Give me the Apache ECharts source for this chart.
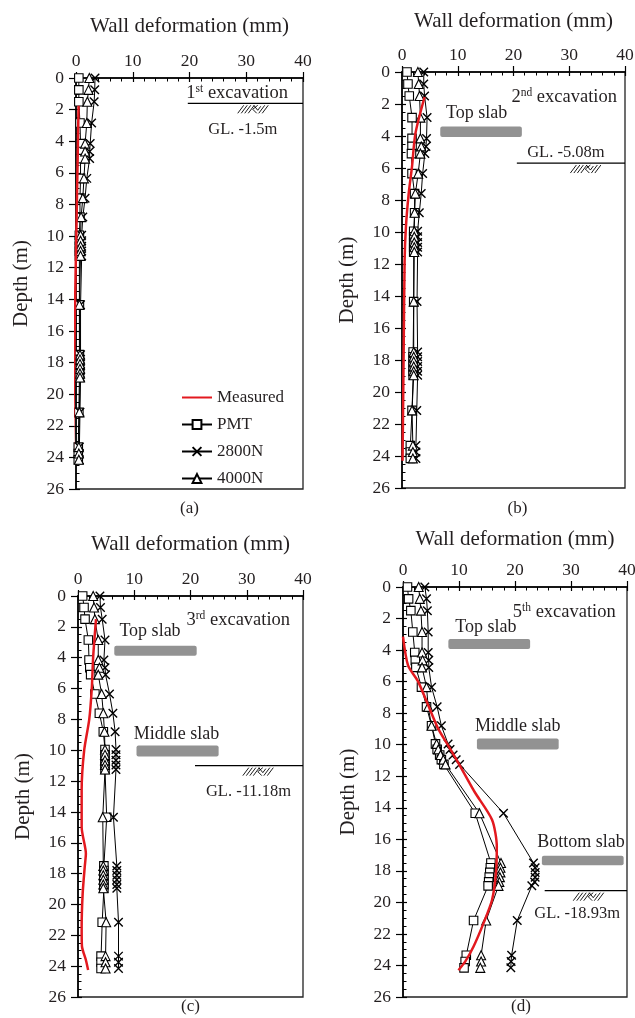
<!DOCTYPE html>
<html><head><meta charset="utf-8">
<script src="https://cdn.jsdelivr.net/npm/echarts@6/dist/echarts.min.js"></script>
<style>html,body{margin:0;padding:0;background:#fff}#c{width:635px;height:1018px}</style>
</head><body><div id="c"></div>
<script>
// ---------------- DATA ----------------
const depthModel = [0,0.75,1.5,2.85,4.15,4.65,5.1,6.35,7.6,8.8,9.95,10.3,10.65,10.95,11.25,14.35,17.5,17.8,18.1,18.4,18.7,18.95,21.15,23.35,23.75,24.15];

// (a) 1st excavation
const pmtA   = [0.5,0.5,0.5,0.7,0.8,0.8,0.8,0.8,0.7,0.7,0.6,0.6,0.6,0.6,0.6,0.6,0.6,0.6,0.6,0.6,0.6,0.6,0.5,0.4,0.4,0.4];
const n2800A = [3.35,3.3,3.2,2.75,2.5,2.4,2.4,1.9,1.6,1.2,1.0,1.0,1.0,1.0,1.0,0.8,0.8,0.8,0.8,0.8,0.8,0.8,0.7,0.6,0.6,0.6];
const n4000A = [2.35,2.2,2.0,1.9,1.6,1.6,1.6,1.4,1.2,0.9,0.8,0.8,0.8,0.8,0.8,0.6,0.7,0.7,0.7,0.7,0.7,0.7,0.6,0.5,0.5,0.5];
const measDepthA = [1.75,6,10,15,20,24.3];
const measA      = [0.45,0.25,0.05,-0.2,-0.4,-0.6];

// (b) 2nd excavation
const pmtB   = [0.9,1.07,1.3,1.8,1.8,1.8,1.7,1.8,2.26,2.26,2.1,2.1,2.1,2.1,2.1,2.1,2.0,2.0,2.0,2.0,2.0,2.0,1.8,1.5,1.5,1.5];
const n2800B = [3.9,3.9,4.05,4.5,4.4,4.3,4.1,3.7,3.45,3.1,2.8,2.8,2.8,2.8,2.8,2.7,2.8,2.8,2.8,2.8,2.8,2.8,2.65,2.5,2.5,2.5];
const n4000B = [2.85,3.0,3.15,3.3,3.3,3.45,3.3,2.9,2.4,2.26,2.2,2.2,2.2,2.2,2.2,2.1,2.1,2.1,2.1,2.1,2.1,2.1,1.8,1.95,1.95,1.95];
const measDepthB = [1.56,3.85,5.9,7.6,9.7,11.8,17.4,24.3];
const measB      = [4.05,2.4,1.8,1.2,0.7,0.47,0.3,0.1];

// (c) 3rd excavation
const pmtC   = [0.83,1.07,1.25,1.84,1.96,2.1,2.25,3.0,3.8,4.5,4.8,4.8,4.8,4.8,4.8,5.1,4.6,4.6,4.6,4.6,4.6,4.6,4.3,4.1,4.1,4.1];
const n2800C = [3.9,4.0,4.3,4.8,4.6,4.8,4.9,5.6,6.2,6.6,6.75,6.75,6.75,6.75,6.75,6.3,6.9,6.9,6.9,6.9,6.9,6.9,7.2,7.2,7.2,7.2];
const n4000C = [2.7,2.85,3.0,3.6,3.6,3.8,3.6,4.2,4.5,4.7,4.8,4.8,4.8,4.8,4.8,4.4,4.5,4.5,4.5,4.5,4.5,4.5,5.0,4.9,4.9,4.9];
const measDepthC = [1.5,3.93,6.0,8.0,10.0,12.6,15.0,16.7,17.55,19.3,21.45,22.7,23.6,24.25];
const measC      = [3.2,2.7,2.45,2.0,1.1,0.65,0.65,1.4,1.2,0.83,0.65,0.7,1.4,1.8];

// (d) 5th excavation
const pmtD   = [0.8,1.0,1.4,1.75,2.1,2.2,2.3,3.3,4.2,5.1,5.8,6.1,6.55,6.85,7.3,12.9,15.7,15.6,15.5,15.4,15.3,15.2,12.6,11.3,11.1,10.9];
const n2800D = [3.9,4.2,4.35,4.5,4.5,4.6,4.6,5.1,6.1,6.85,8.05,8.4,8.95,9.5,10.1,17.95,23.3,23.6,23.6,23.6,23.5,23.0,20.4,19.4,19.3,19.25];
const n4000D = [2.8,3.0,3.2,3.4,3.4,3.5,3.4,4.2,4.5,5.1,6.0,6.3,6.7,7.2,7.6,13.65,17.5,17.4,17.4,17.3,17.2,17.05,14.85,13.95,13.95,13.8];
const measDepthD = [3.15,4.97,6.0,7.5,9.0,10.04,11.1,13.0,14.76,16.45,18.15,19.85,21.3,22.8,23.76,24.3];
const measD      = [0,0.9,2.7,4.5,6.3,8.05,9.8,12.8,15.9,16.75,16.6,15.9,14.4,12.6,11.1,9.9];

const xTicks = [0,10,20,30,40];
const yTicks = [0,2,4,6,8,10,12,14,16,18,20,22,24,26];
const seriesNames = ['Measured','PMT','2800N','4000N'];
const captions = ['(a)','(b)','(c)','(d)'];
const excavNum = ['1','2','3','5'];
const excavSup = ['st','nd','rd','th'];

// annotations in data units: [panel, label, x0, x1, d0, d1, labelX, labelD]
const slabs = [
  [1,'Top slab',6.86,21.5,3.4,4.06,13.4,2.6],
  [2,'Top slab',6.45,21.1,3.22,3.87,12.8,2.3],
  [2,'Middle slab',10.4,25.0,9.7,10.4,17.5,8.97],
  [3,'Top slab',8.1,22.7,3.3,3.93,14.8,2.58],
  [3,'Middle slab',13.2,27.8,9.6,10.3,20.5,8.86],
  [3,'Bottom slab',24.8,39.4,17.05,17.65,31.8,16.2]
];
// ground level: [panel, x0, depth, hatchX, text, textX, textD]
const groundLevels = [
  [0,19.7,1.6,28.5,'GL. -1.5m',29.4,3.3],
  [1,20.6,5.69,30.2,'GL. -5.08m',29.4,5.06],
  [2,20.8,11.0,29.3,'GL. -11.18m',30.3,12.7],
  [3,25.3,19.26,30.4,'GL. -18.93m',31.1,20.7]
];
// excavation label position: [x, depth]
const excavPos = [[28.4,0.97],[29.1,1.56],[28.5,1.56],[28.8,1.57]];

// ---------------- LAYOUT ----------------
const FONT = "'Liberation Serif','Times New Roman',serif";
const TXT = '#231f20';
const grids = [
  {left:76, top:78, width:227, height:411},
  {left:402, top:72, width:223, height:416},
  {left:78, top:596, width:225, height:401},
  {left:403, top:587, width:224, height:410}
];
const titleGap = [41, 40, 41, 37];
const captionY = [509, 509, 1007, 1007];
const captionDx = [0, 4, 0, 6];

const panelData = [
  {pmt:pmtA,n28:n2800A,n40:n4000A,md:measDepthA,m:measA},
  {pmt:pmtB,n28:n2800B,n40:n4000B,md:measDepthB,m:measB},
  {pmt:pmtC,n28:n2800C,n40:n4000C,md:measDepthC,m:measC},
  {pmt:pmtD,n28:n2800D,n40:n4000D,md:measDepthD,m:measD}
];

function pairs(xs, ds){ return xs.map((x,i)=>[x, ds[i]]); }

const xAxes = [], yAxes = [], series = [];
const tickLine = {color:'#000', width:1.2};
grids.forEach((g,i)=>{
  xAxes.push({gridIndex:i, type:'value', position:'top', min:xTicks[0], max:xTicks[xTicks.length-1], interval:xTicks[1]-xTicks[0],
    name:'Wall deformation (mm)', nameLocation:'middle', nameGap:titleGap[i],
    nameTextStyle:{fontSize:21, fontFamily:FONT, color:TXT},
    axisLine:{show:true, onZero:false, lineStyle:{color:'#000', width:1.6}},
    axisTick:{show:true, inside:false, length:6, lineStyle:tickLine},
    minorTick:{show:false},
    axisLabel:{show:true, margin:8, fontSize:17.5, fontFamily:FONT, color:TXT},
    splitLine:{show:false}});
  xAxes.push({gridIndex:i, type:'value', position:'top', min:xTicks[0], max:xTicks[xTicks.length-1], interval:xTicks[1]-xTicks[0],
    axisLine:{show:false}, axisLabel:{show:false},
    axisTick:{show:true, inside:true, length:4, lineStyle:tickLine},
    minorTick:{show:true, splitNumber:5, length:3.5, lineStyle:{color:'#000', width:1}},
    splitLine:{show:false}});
  yAxes.push({gridIndex:i, type:'value', position:'left', inverse:true, min:yTicks[0], max:yTicks[yTicks.length-1], interval:yTicks[1]-yTicks[0],
    name:'Depth (m)', nameLocation:'middle', nameGap:44,
    nameTextStyle:{fontSize:21, fontFamily:FONT, color:TXT},
    axisLine:{show:true, onZero:false, lineStyle:{color:'#000', width:1.6}},
    axisTick:{show:true, inside:false, length:7, lineStyle:tickLine},
    minorTick:{show:false},
    axisLabel:{show:true, margin:12, fontSize:17.5, fontFamily:FONT, color:TXT},
    splitLine:{show:false}});
  yAxes.push({gridIndex:i, type:'value', position:'left', inverse:true, min:yTicks[0], max:yTicks[yTicks.length-1], interval:yTicks[1]-yTicks[0],
    axisLine:{show:false}, axisLabel:{show:false},
    axisTick:{show:true, inside:true, length:4, lineStyle:tickLine},
    minorTick:{show:true, splitNumber:4, length:3.5, lineStyle:{color:'#000', width:1}},
    splitLine:{show:false}});

  const pd = panelData[i];
  const ax = {xAxisIndex:2*i, yAxisIndex:2*i};
  const blk = {color:'#000', width:1};
  series.push(Object.assign({name:'PMT', type:'line', data:pairs(pd.pmt, depthModel), symbol:'rect', symbolSize:8.5,
    showAllSymbol:true, itemStyle:{color:'#fff', borderColor:'#000', borderWidth:1.1}, lineStyle:blk, z:2, animation:false}, ax));
  series.push(Object.assign({name:'2800N', type:'line', data:pairs(pd.n28, depthModel), symbol:'path://M0,0L10,10M10,0L0,10', symbolSize:8.5,
    showAllSymbol:true, itemStyle:{color:'none', borderColor:'#000', borderWidth:1.4}, lineStyle:blk, z:2, animation:false}, ax));
  series.push(Object.assign({name:'4000N', type:'line', data:pairs(pd.n40, depthModel), symbol:'triangle', symbolSize:9,
    showAllSymbol:true, itemStyle:{color:'#fff', borderColor:'#000', borderWidth:1.1}, lineStyle:blk, z:2, animation:false}, ax));
  series.push(Object.assign({name:'Measured', type:'line', data:pairs(pd.m, pd.md), symbol:'none', smooth:0.25, clip:false,
    lineStyle:{color:'#e3191f', width:2.5}, itemStyle:{color:'#e3191f'}, z:4, animation:false}, ax));
});

const legendData = seriesNames.map(n => n === 'Measured' ? {name:n, itemStyle:{opacity:0}} : n);

const option = {
  animation:false,
  backgroundColor:'#fff',
  grid: grids.map(g=>Object.assign({show:true, borderColor:'#222', borderWidth:1.3, backgroundColor:'transparent', containLabel:false, outerBoundsMode:'none'}, g)),
  xAxis: xAxes,
  yAxis: yAxes,
  legend: {data:legendData, orient:'vertical', left:176, top:384, itemWidth:30, itemHeight:11, itemGap:10,
    textStyle:{fontSize:17, fontFamily:FONT, color:TXT}, selectedMode:false},
  series: series
};

const chart = echarts.init(document.getElementById('c'), null, {renderer:'canvas'});
chart.setOption(option);

function P(i,x,d){ return chart.convertToPixel({xAxisIndex:2*i, yAxisIndex:2*i},[x,d]); }
const gr = [];
function txt(x,y,text,size,extra){
  gr.push({type:'text', x:x, y:y, z:10, style:Object.assign({text:text, fill:TXT, fontSize:size, fontFamily:FONT, align:'center', verticalAlign:'middle'}, extra||{})});
}
// excavation labels
excavPos.forEach((p,i)=>{
  const q = P(i,p[0],p[1]);
  gr.push({type:'text', x:q[0], y:q[1], z:10, style:{
    text:'{n|'+excavNum[i]+'}{s|'+excavSup[i]+'}{n| excavation}',
    align:'center', verticalAlign:'middle',
    rich:{ n:{fontSize:18.5, fontFamily:FONT, fill:TXT, lineHeight:20},
           s:{fontSize:11.5, fontFamily:FONT, fill:TXT, verticalAlign:'top', lineHeight:12} } }});
});
// slabs
slabs.forEach(s=>{
  const a = P(s[0], s[2], s[4]), b = P(s[0], s[3], s[5]);
  gr.push({type:'rect', z:9, shape:{x:a[0], y:a[1], width:b[0]-a[0], height:b[1]-a[1], r:2}, style:{fill:'#929292'}});
  const t = P(s[0], s[6], s[7]);
  txt(t[0], t[1], s[1], 18);
});
// ground levels
function hatch(x,y){
  const st = {stroke:'#000', lineWidth:0.9, fill:null};
  for(let k=0;k<4;k++) gr.push({type:'line', z:10, shape:{x1:x+k*3.5, y1:y+8, x2:x+k*3.5+6, y2:y}, style:st});
  gr.push({type:'polyline', z:10, shape:{points:[[x+20,y],[x+15,y+4],[x+19,y+8]]}, style:st});
  gr.push({type:'polyline', z:10, shape:{points:[[x+16,y],[x+20,y+5],[x+23,y+1]]}, style:st});
  for(let k=0;k<2;k++) gr.push({type:'line', z:10, shape:{x1:x+21+k*3.5, y1:y+8, x2:x+27+k*3.5, y2:y}, style:st});
}
groundLevels.forEach(g=>{
  const a = P(g[0], g[1], g[2]), b = P(g[0], 40, g[2]);
  gr.push({type:'line', z:10, shape:{x1:a[0], y1:a[1], x2:b[0], y2:b[1]}, style:{stroke:'#000', lineWidth:1.3}});
  const h = P(g[0], g[3], g[2]);
  hatch(h[0], h[1]+2);
  const t = P(g[0], g[5], g[6]);
  txt(t[0], t[1], g[4], 16.5);
});
// captions
grids.forEach((g,i)=>{ txt(g.left + g.width/2 + captionDx[i], captionY[i], captions[i], 17); });
chart.setOption({graphic: gr});
</script>
</body></html>
